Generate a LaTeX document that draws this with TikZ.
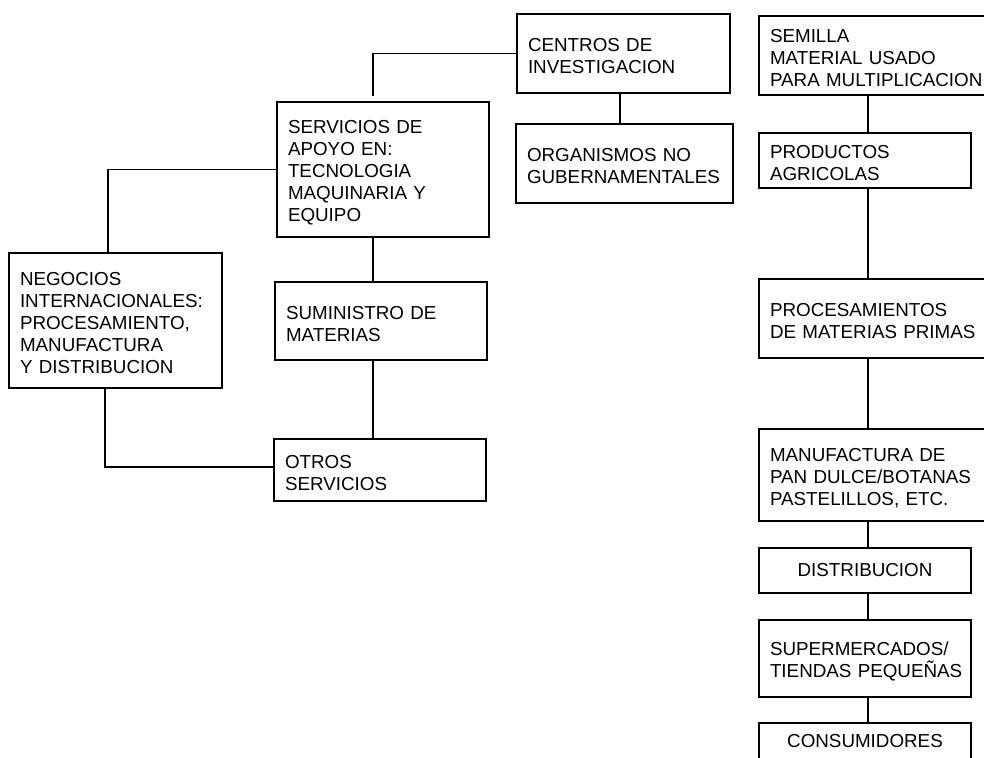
\documentclass[tikz,border=0pt]{standalone}
\usepackage{fontspec}
\setmainfont{Liberation Sans}
\usetikzlibrary{calc}
\newcommand{\nohyph}{\hyphenpenalty=10000\relax\exhyphenpenalty=10000\relax\hbadness=10000\relax\hfuzz=40pt\relax}
\tikzset{
  basebox/.style 2 args={draw, rectangle, line width=1.8pt, inner xsep=11pt, inner ysep=0pt,
    text width=#1pt-22pt, minimum width=#1pt, minimum height=#2pt,
    font=\fontsize{18.8}{22}\selectfont},
  box/.style 2 args={basebox={#1}{#2}, align=left, execute at begin node={\nohyph\rule{0pt}{19pt}}},
  cbox/.style 2 args={basebox={#1}{#2}, align=center},
  link/.style={line width=1.8pt}
}
\begin{document}
\begin{tikzpicture}[x=1pt,y=-1pt]
\useasboundingbox (0,0) rectangle (984,757);
\clip (0,0) rectangle (984,757);
% left group
\node[box={213}{79}] (centros) at (623.5,53.5) {CENTROS DE\\INVESTIGACION};
\node[box={217}{79}] (ong) at (624.5,163.5) {ORGANISMOS NO\\GUBERNAMENTALES};
\node[box={212}{135}] (serv) at (383,169.5) {SERVICIOS DE\\APOYO EN:\\TECNOLOGIA\\MAQUINARIA Y\\EQUIPO};
\node[box={213}{135}] (neg) at (115.5,320.5) {NEGOCIOS\\INTERNACIONALES:\\PROCESAMIENTO,\\MANUFACTURA\\Y DISTRIBUCION};
\node[box={212}{78}] (sum) at (381,321) {SUMINISTRO DE\\MATERIAS};
\node[box={212}{62}] (otros) at (380,470) {OTROS\\SERVICIOS};
% right column
\node[box={260}{79}] (sem) at (889,55.5) {SEMILLA\\MATERIAL USADO\\PARA MULTIPLICACION};
\node[box={212}{55}] (prod) at (865,160.5) {PRODUCTOS\\AGRICOLAS};
\node[box={240}{79}] (proc) at (879,318.5) {PROCESAMIENTOS\\DE MATERIAS PRIMAS};
\node[box={240}{92}] (manu) at (879,475) {MANUFACTURA DE\\PAN DULCE/BOTANAS\\PASTELILLOS, ETC.};
\node[cbox={212}{45}] (dist) at (865,570.5) {DISTRIBUCION};
\node[box={212}{77}] (super) at (865,658.5) {SUPERMERCADOS/\\TIENDAS~PEQUEÑAS};
\node[cbox={212}{36}] (cons) at (865,741) {CONSUMIDORES};
% connector columns
\coordinate (spine) at (373,0);
\coordinate (ntx) at (108,0);
\coordinate (nbx) at (105,0);
\coordinate (cx) at (620,0);
\coordinate (rcol) at (868,0);
% connectors
\draw[link, shorten >=5pt] (centros.west) -| (serv.north -| spine);
\draw[link] (centros.south -| cx) -- (ong.north -| cx);
\draw[link] (serv.south -| spine) -- (sum.north -| spine);
\draw[link] (sum.south -| spine) -- (otros.north -| spine);
\draw[link] (serv.west) -| (neg.north -| ntx);
\draw[link] (neg.south -| nbx) |- ([yshift=3pt]otros.west);
\draw[link] (sem.south -| rcol) -- (prod.north -| rcol);
\draw[link] (prod.south -| rcol) -- (proc.north -| rcol);
\draw[link] (proc.south -| rcol) -- (manu.north -| rcol);
\draw[link] (manu.south -| rcol) -- (dist.north -| rcol);
\draw[link] (dist.south -| rcol) -- (super.north -| rcol);
\draw[link] (super.south -| rcol) -- (cons.north -| rcol);
\end{tikzpicture}
\end{document}
